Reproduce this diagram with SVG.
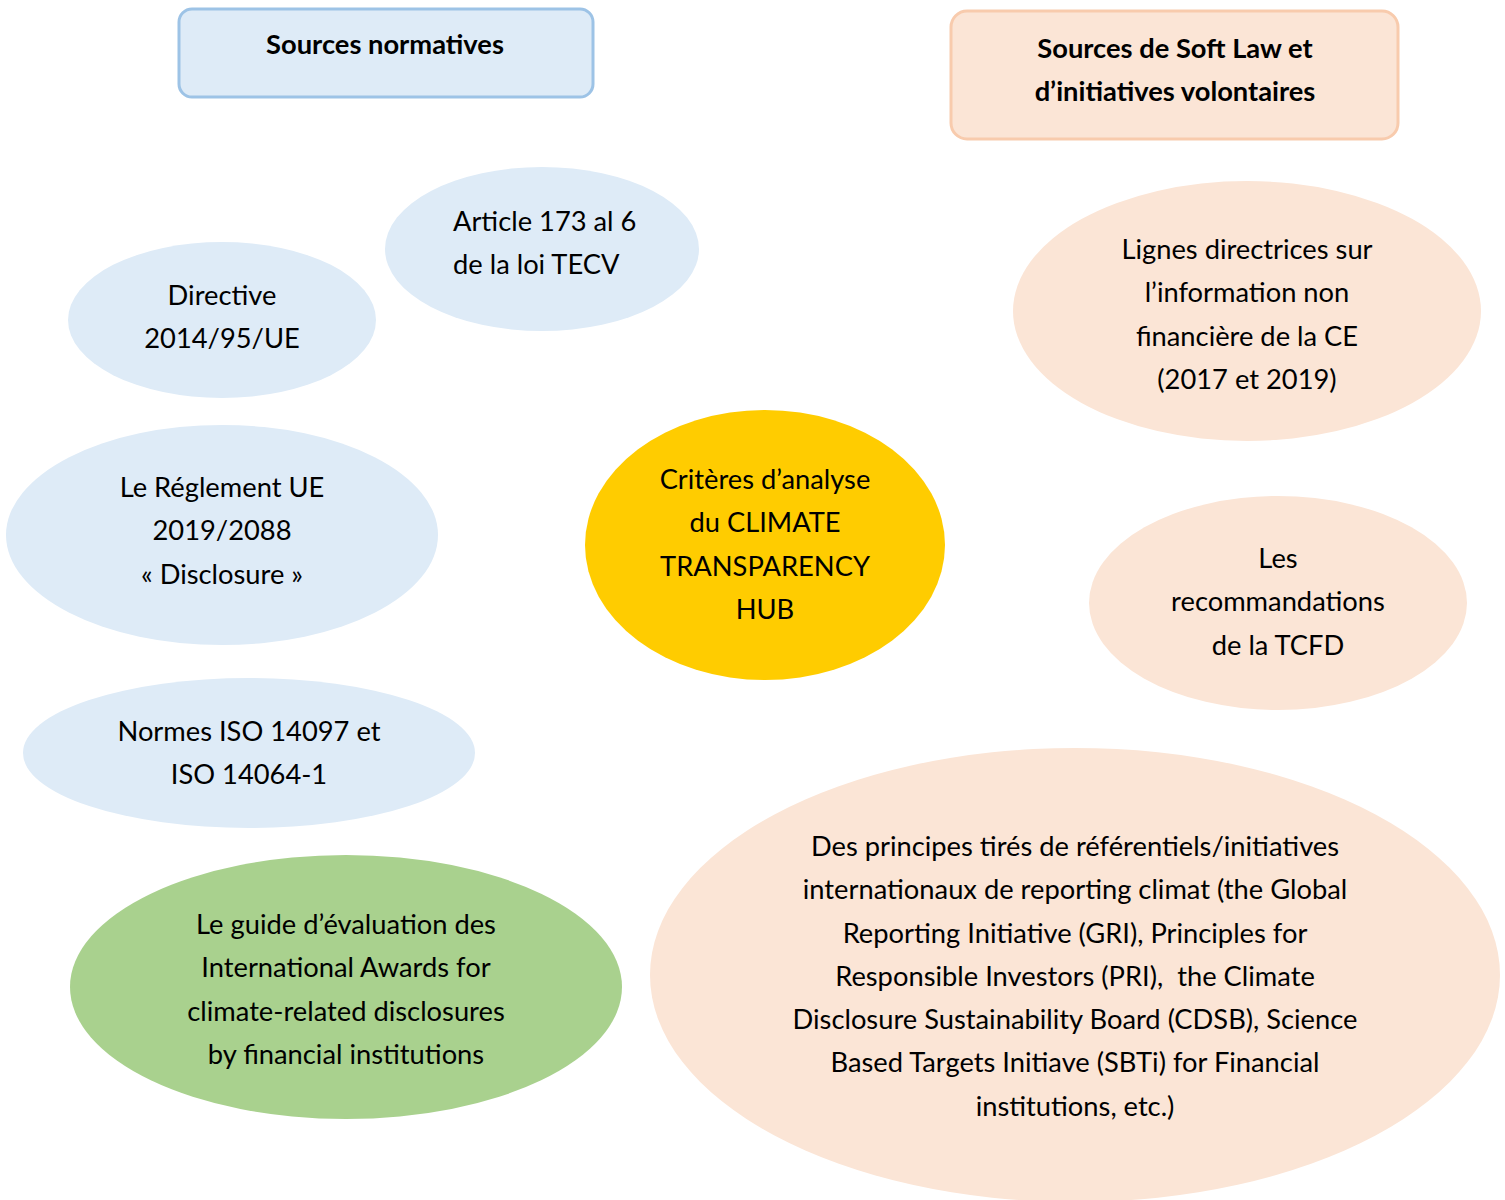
<svg xmlns="http://www.w3.org/2000/svg" width="1505" height="1200" viewBox="0 0 1505 1200">
<style>
text{font-family:Lato,"Open Sans","Liberation Sans",sans-serif;font-size:27.3px;fill:#000;text-anchor:middle}
.b{font-weight:bold}
.blue{fill:#DEEBF7}
.peach{fill:#FBE5D6}
</style>
<rect width="1505" height="1200" fill="#fff"/>
<g id="connectors"></g>
<g id="box-normatives">
<rect x="179" y="9" width="414" height="88" rx="13" fill="#DEEBF7" stroke="#9DC3E6" stroke-width="3"/>
<text class="b" x="385" y="54">Sources normatives</text>
</g>
<g id="box-softlaw">
<rect x="951" y="11" width="447" height="128" rx="16" fill="#FBE5D6" stroke="#F8CBAD" stroke-width="3"/>
<text class="b" x="1175" y="58">Sources de Soft Law et</text>
<text class="b" x="1175" y="101">d’initiatives volontaires</text>
</g>
<g id="article">
<ellipse class="blue" cx="542" cy="249" rx="157" ry="82"/>
<text x="453" y="231" style="text-anchor:start">Article 173 al 6</text>
<text x="453" y="274" style="text-anchor:start">de la loi TECV</text>
</g>
<g id="directive">
<ellipse class="blue" cx="222" cy="320" rx="154" ry="78"/>
<text x="222" y="305">Directive</text>
<text x="222" y="348">2014/95/UE</text>
</g>
<g id="reglement">
<ellipse class="blue" cx="222" cy="535" rx="216" ry="110"/>
<text x="222" y="497">Le Réglement UE</text>
<text x="222" y="540">2019/2088</text>
<text x="222" y="584">« Disclosure »</text>
</g>
<g id="iso">
<ellipse class="blue" cx="249" cy="753" rx="226" ry="75"/>
<text x="249" y="741">Normes ISO 14097 et</text>
<text x="249" y="784">ISO 14064-1</text>
</g>
<g id="guide">
<ellipse cx="346" cy="987" rx="276" ry="132" fill="#A9D18E"/>
<text x="346" y="934">Le guide d’évaluation des</text>
<text x="346" y="977">International Awards for</text>
<text x="346" y="1021">climate-related disclosures</text>
<text x="346" y="1064">by financial institutions</text>
</g>
<g id="criteres">
<ellipse cx="765" cy="545" rx="180" ry="135" fill="#FFCC00"/>
<text x="765" y="489">Critères d’analyse</text>
<text x="765" y="532">du CLIMATE</text>
<text x="765" y="576">TRANSPARENCY</text>
<text x="765" y="619">HUB</text>
</g>
<g id="lignes">
<ellipse class="peach" cx="1247" cy="311" rx="234" ry="130"/>
<text x="1247" y="259">Lignes directrices sur</text>
<text x="1247" y="302">l’information non</text>
<text x="1247" y="346">financière de la CE</text>
<text x="1247" y="389">(2017 et 2019)</text>
</g>
<g id="tcfd">
<ellipse class="peach" cx="1278" cy="603" rx="189" ry="107"/>
<text x="1278" y="568">Les</text>
<text x="1278" y="611">recommandations</text>
<text x="1278" y="655">de la TCFD</text>
</g>
<g id="principes">
<ellipse class="peach" cx="1075" cy="975" rx="425" ry="227"/>
<text x="1075" y="856">Des principes tirés de référentiels/initiatives</text>
<text x="1075" y="899">internationaux de reporting climat (the Global</text>
<text x="1075" y="943">Reporting Initiative (GRI), Principles for</text>
<text x="1075" y="986" style="white-space:pre">Responsible Investors (PRI),  the Climate</text>
<text x="1075" y="1029">Disclosure Sustainability Board (CDSB), Science</text>
<text x="1075" y="1072">Based Targets Initiave (SBTi) for Financial</text>
<text x="1075" y="1116">institutions, etc.)</text>
</g>
</svg>
